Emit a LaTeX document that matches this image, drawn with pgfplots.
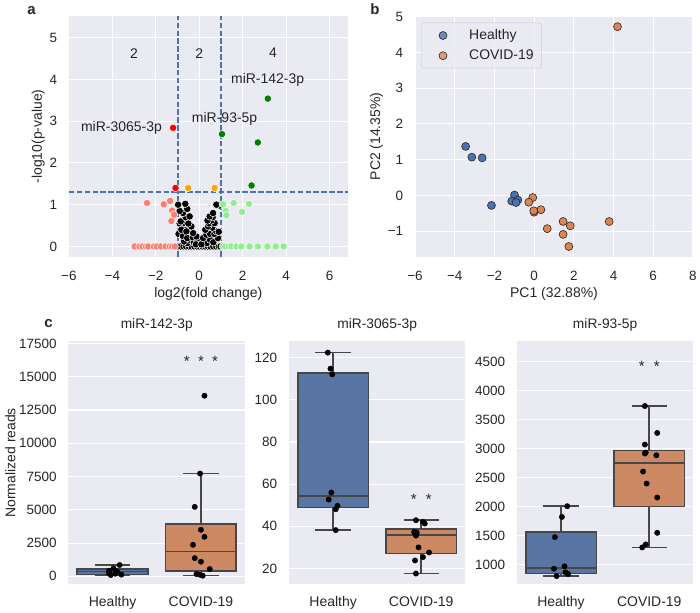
\documentclass[border=0pt]{standalone}
\usepackage{pgfplots}
\pgfplotsset{compat=1.18}
\usepgfplotslibrary{statistics}
\usepackage{fontspec}
\setmainfont{Liberation Sans}
\definecolor{sbbg}{HTML}{EAEAF2}
\definecolor{sbtext}{HTML}{262626}
\definecolor{sbblue}{HTML}{4C72B0}
\definecolor{sborange}{HTML}{DD8452}
\definecolor{boxblue}{HTML}{5875A4}
\definecolor{boxorange}{HTML}{CC8963}
\definecolor{boxline}{HTML}{474747}
\definecolor{salmonc}{HTML}{FA8072}
\definecolor{lgreen}{HTML}{90EE90}
\definecolor{sigorange}{HTML}{FFA500}
\definecolor{dgreen}{HTML}{008000}
\newcommand{\fs}[1]{\fontsize{#1}{#1}\selectfont}

\pgfplotsset{
  sb/.style={
    scale only axis, anchor=south west,
    axis background/.style={fill=sbbg},
    axis line style={draw=none},
    major grid style={draw=white, line width=1.1pt},
    major tick length=0pt,
    tick style={draw=none},
    xmajorgrids, ymajorgrids,
    scaled ticks=false,
    /pgf/number format/assume math mode=true,
    tick label style={font=\fs{13.5}, text=sbtext},
    yticklabel style={anchor=east, inner sep=0pt, xshift=-11.7pt},
    label style={font=\fs{14}, text=sbtext},
    title style={font=\fs{13.8}, text=sbtext, at={(axis description cs:0.5,1)}, anchor=base, yshift=6.7pt},
  },
  sbtop/.style={sb, xticklabel style={anchor=base, yshift=-23.7pt}},
  vol/.style={only marks, mark=*, mark size=3.7pt, mark options={fill=#1, draw=white, line width=0.5pt}},
  pca/.style={only marks, mark=*, mark size=4pt, mark options={fill=#1, draw=black!85, line width=0.6pt}},
  strip/.style={only marks, mark=*, mark size=2.7pt, mark options={fill=black, draw=black}},
  bx/.style={boxplot prepared={#1}, draw=boxline, line width=1.6pt, solid},
  boxc/.style={sb, width=176.8pt, height=243pt, xmin=-0.5, xmax=1.5, xmajorgrids=false,
    xtick={0,1}, xticklabels={Healthy,COVID-19},
    xticklabel style={font=\fs{14}, anchor=base, yshift=-22.7pt},
    boxplot/draw direction=y,
    boxplot/box extend=0.8, boxplot/whisker extend=0.4},
  thr/.style={draw=sbblue, line width=1.7pt, line cap=butt, dash pattern=on 5.5pt off 2.4pt},
}

\begin{document}
\begin{tikzpicture}
\path (0,0) rectangle (700pt,611pt);
\node[anchor=base west, font=\fs{15}\bfseries, text=sbtext, inner sep=0pt] at (27.3pt,596pt) {a};
\node[anchor=base west, font=\fs{15}\bfseries, text=sbtext, inner sep=0pt] at (370.7pt,596pt) {b};
\node[anchor=base west, font=\fs{15}\bfseries, text=sbtext, inner sep=0pt] at (44.3pt,282.7pt) {c};

% ---------------- panel a : volcano
\begin{axis}[sbtop, at={(69pt,353.7pt)}, width=279.3pt, height=241.3pt,
  xmin=-6, xmax=6.84, ymin=-0.25, ymax=5.52,
  xtick={-6,-4,-2,0,2,4,6}, xticklabels={−6,−4,−2,0,2,4,6},
  ytick={0,1,2,3,4,5}, yticklabels={0,1,2,3,4,5},
  xlabel={log2(fold change)}, ylabel={-log10(p-value)},
  xlabel style={at={(axis description cs:0.5,-0.167)}, anchor=base},
  ylabel style={at={(axis description cs:-0.097,0.5)}, anchor=base},
]
\addplot[vol=black] table {
x y
-0.98 0
-0.85 0
-0.72 0
-0.60 0
-0.48 0
-0.35 0
-0.22 0
-0.10 0
0.02 0
0.15 0
0.28 0
0.40 0
0.52 0
0.65 0
0.78 0
0.90 0
0.98 0
-0.55 0.08
-0.40 0.15
-0.25 0.10
-0.10 0.18
0.05 0.12
0.20 0.15
0.35 0.08
0.50 0.16
0.65 0.10
-0.70 0.12
-0.15 0.05
0.10 0.05
-0.95 0.30
-0.90 0.55
-0.70 0.45
-0.75 0.25
-0.55 0.20
-0.30 0.22
-0.45 0.38
-0.82 0.40
-0.13 0.24
-0.28 0.32
-0.59 0.36
-0.36 0.48
-0.67 0.56
-0.50 0.55
-0.85 0.60
-0.62 0.70
-0.44 0.72
-0.75 0.80
-0.90 0.85
-0.55 0.90
-0.97 1.00
-0.64 1.02
0.18 0.20
0.86 0.20
0.33 0.28
0.50 0.30
0.70 0.30
0.79 0.36
0.90 0.35
0.28 0.40
0.60 0.45
0.41 0.48
0.45 0.55
0.71 0.56
0.55 0.62
0.38 0.62
0.62 0.70
0.48 0.72
0.64 0.80
0.95 0.98
0.79 1.00
};
\addplot[vol=salmonc] table {
x y
-2.97 0
-2.75 0
-2.61 0
-2.45 0
-2.35 0
-2.08 0
-1.95 0
-1.77 0
-1.55 0
-1.36 0
-1.25 0
-1.12 0
-2.40 1.04
-1.63 1.01
-1.34 1.09
-1.25 0.86
-1.16 0.76
-1.28 0.61
};
\addplot[vol=lgreen] table {
x y
1.09 0
1.20 0
1.37 0
1.50 0
1.71 0
1.94 0
2.32 0
2.70 0
3.14 0
3.52 0
3.89 0
1.10 1.01
1.59 1.04
2.29 1.02
1.22 0.85
1.25 0.75
1.97 0.83
};
\addplot[vol=red] table {
x y
-1.20 2.84
-1.09 1.40
};
\addplot[vol=sigorange] table {
x y
-0.51 1.40
0.71 1.40
};
\addplot[vol=dgreen] table {
x y
3.16 3.54
1.05 2.69
2.70 2.49
2.41 1.46
};
\addplot[thr] coordinates {(-6,1.301) (6.84,1.301)};
\addplot[thr] coordinates {(1,-0.25) (1,5.52)};
\addplot[thr] coordinates {(-0.99,-0.25) (-0.99,5.52)};
\node[font=\fs{14}, text=sbtext] at (axis cs:3.15,3.99) {miR-142-3p};
\node[font=\fs{14}, text=sbtext] at (axis cs:1.17,3.05) {miR-93-5p};
\node[font=\fs{14}, text=sbtext] at (axis cs:-3.58,2.85) {miR-3065-3p};
\node[font=\fs{14}, text=sbtext] at (axis cs:-3.0,4.63) {2};
\node[font=\fs{14}, text=sbtext] at (axis cs:0.0,4.63) {2};
\node[font=\fs{14}, text=sbtext] at (axis cs:3.4,4.63) {4};
\end{axis}

% ---------------- panel b : PCA
\begin{axis}[sbtop, at={(415.7pt,353.7pt)}, width=278.3pt, height=241.3pt,
  xmin=-6, xmax=8, ymin=-1.72, ymax=5.02,
  xtick={-6,-4,-2,0,2,4,6,8}, xticklabels={−6,−4,−2,0,2,4,6,8},
  ytick={-1,0,1,2,3,4,5}, yticklabels={−1,0,1,2,3,4,5},
  xlabel={PC1 (32.88\%)}, ylabel={PC2 (14.35\%)},
  xlabel style={at={(axis description cs:0.5,-0.167)}, anchor=base},
  ylabel style={at={(axis description cs:-0.126,0.5)}, anchor=base},
  legend style={at={(axis description cs:0.0216,0.972)}, anchor=north west,
    draw=black!20, fill=sbbg, fill opacity=0.8, draw opacity=1, text opacity=1,
    rounded corners=3pt, font=\fs{14}, text=sbtext,
    inner xsep=8pt, inner ysep=6.8pt, row sep=8.8pt, nodes={inner sep=0pt}},
  legend cell align=left,
  legend image code/.code={\path (-13.6pt,0pt) (26pt,0pt); \draw[#1] plot coordinates {(0pt,0pt)};},
]
\addplot[pca=sbblue] table {
x y
-3.45 1.37
-3.14 1.07
-2.62 1.05
-2.15 -0.28
-0.99 0.01
-1.13 -0.16
-0.82 -0.13
-0.91 -0.20
};
\addlegendentry{Healthy}
\addplot[pca=sborange] table {
x y
4.20 4.72
-0.07 -0.06
-0.27 -0.19
0.34 -0.40
0.00 -0.47
-0.02 -0.43
0.66 -0.93
1.46 -0.73
1.82 -0.85
1.46 -1.09
1.75 -1.43
3.78 -0.73
};
\addlegendentry{COVID-19}
\end{axis}

% ---------------- panel c1 (values in thousands of reads; tick labels give reads)
\begin{axis}[boxc, at={(68.5pt,26pt)}, width=177pt,
  ymin=-0.58, ymax=17.65, title={miR-142-3p},
  ytick={0,2.5,5,7.5,10,12.5,15,17.5},
  yticklabels={0,2500,5000,7500,10000,12500,15000,17500},
  ylabel={Normalized reads},
  ylabel style={at={(axis description cs:-0.30,0.5)}, anchor=base},
]
\addplot[bx={lower whisker=0.100, lower quartile=0.150, median=0.350, upper quartile=0.547, upper whisker=0.850, draw position=0}, fill=boxblue] coordinates {};
\addplot[bx={lower whisker=0.075, lower quartile=0.400, median=1.875, upper quartile=3.925, upper whisker=7.725, draw position=1}, fill=boxorange] coordinates {};
\addplot[strip] table {
x y
0.08 0.850
0.01 0.600
-0.04 0.420
0.05 0.380
-0.04 0.250
0.03 0.200
0.10 0.130
-0.02 0.100
1.04 13.575
0.99 7.725
0.93 5.220
1.00 3.500
1.04 2.970
0.91 2.370
0.93 1.370
1.00 1.100
1.10 0.550
0.95 0.170
0.99 0.120
1.02 0.050
};
\node[font=\fs{15}, text=sbtext, anchor=base] at (axis cs:1,15.75) {*\hspace{8.4pt}*\hspace{8.4pt}*};
\end{axis}

% ---------------- panel c2
\begin{axis}[boxc, at={(289.5pt,26pt)}, width=176.5pt,
  ymin=12.6, ymax=127.7, title={miR-3065-3p},
  ytick={20,40,60,80,100,120}, yticklabels={20,40,60,80,100,120},
]
\addplot[bx={lower whisker=38.2, lower quartile=48.9, median=54.5, upper quartile=112.8, upper whisker=122.4, draw position=0}, fill=boxblue] coordinates {};
\addplot[bx={lower whisker=17.6, lower quartile=27.1, median=36.0, upper quartile=38.6, upper whisker=42.9, draw position=1}, fill=boxorange] coordinates {};
\addplot[strip] table {
x y
-0.06 122.4
-0.03 114.8
-0.01 112.1
-0.02 56.0
-0.05 52.7
0.05 49.7
0.03 48.1
0.03 38.2
0.94 42.9
1.02 42.1
1.04 41.3
0.92 37.3
0.95 37.0
0.93 36.6
0.94 35.6
0.97 30.0
1.09 27.6
1.02 25.4
0.93 23.8
0.94 17.6
};
\node[font=\fs{15}, text=sbtext, anchor=base] at (axis cs:1,50.3) {*\hspace{9.2pt}*};
\end{axis}

% ---------------- panel c3 (values in thousands of reads)
\begin{axis}[boxc, at={(517.7pt,26pt)}, width=176.8pt,
  ymin=0.660, ymax=4.850, title={miR-93-5p},
  ytick={1,1.5,2,2.5,3,3.5,4,4.5},
  yticklabels={1000,1500,2000,2500,3000,3500,4000,4500},
]
\addplot[bx={lower whisker=0.798, lower quartile=0.845, median=0.942, upper quartile=1.562, upper whisker=2.005, draw position=0}, fill=boxblue] coordinates {};
\addplot[bx={lower whisker=1.293, lower quartile=2.003, median=2.746, upper quartile=2.970, upper whisker=3.735, draw position=1}, fill=boxorange] coordinates {};
\addplot[strip] table {
x y
0.07 2.005
0.01 1.820
-0.07 1.471
0.04 0.966
-0.08 0.924
0.05 0.862
0.08 0.833
-0.05 0.798
0.95 3.735
1.09 3.270
0.95 3.069
0.96 2.931
0.95 2.915
1.08 2.884
0.93 2.603
0.97 2.396
1.09 2.155
1.09 1.545
0.96 1.345
0.92 1.293
};
\node[font=\fs{15}, text=sbtext, anchor=base] at (axis cs:1,4.327) {*\hspace{9.2pt}*};
\end{axis}
\end{tikzpicture}
\end{document}
